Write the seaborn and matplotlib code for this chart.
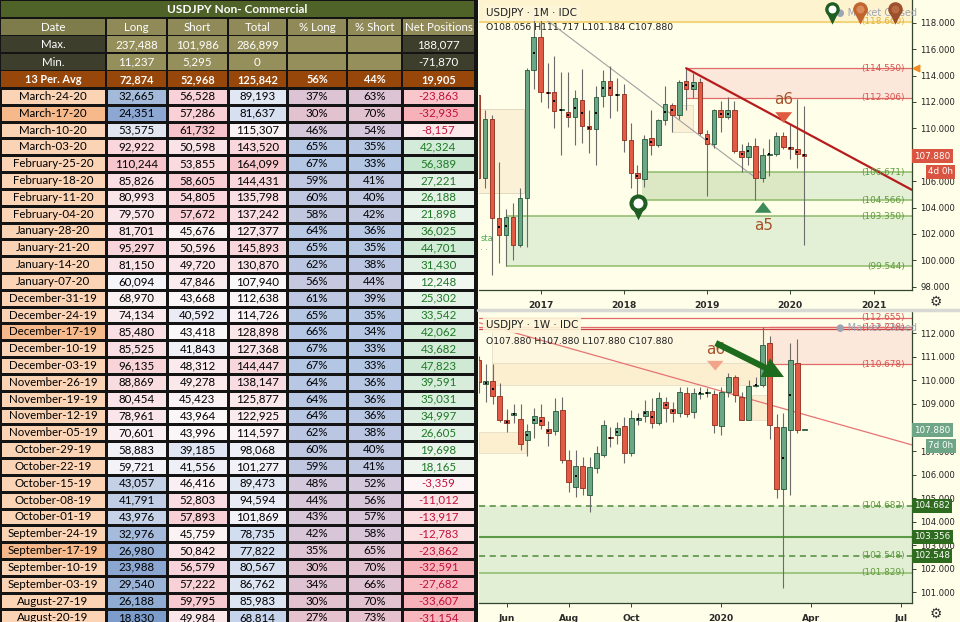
"""USDJPY COT table next to monthly and weekly candle charts."""

import numpy as np
import pandas as pd
import matplotlib
matplotlib.use("Agg")
import matplotlib.pyplot as plt
import matplotlib.dates as mdates
import matplotlib.transforms as mtransforms
from matplotlib.colors import LinearSegmentedColormap, ListedColormap
from matplotlib.lines import Line2D
from matplotlib.patches import Rectangle
from matplotlib.ticker import FuncFormatter, MultipleLocator
import seaborn as sns

# ---------------- table data ----------------
table_title = "USDJPY Non- Commercial"
header_names = ["Date", "Long", "Short", "Total", "% Long", "% Short", "Net Positions"]
stat_names = ["Max.", "Min.", "13 Per. Avg"]
stat_long = [237488, 11237, 72874]
stat_short = [101986, 5295, 52968]
stat_total = [286899, 0, 125842]
stat_pct_long = [None, None, 56]
stat_pct_short = [None, None, 44]
stat_net = [188077, -71870, 19905]

report_dates = ["March-24-20", "March-17-20", "March-10-20", "March-03-20",
                "February-25-20", "February-18-20", "February-11-20", "February-04-20",
                "January-28-20", "January-21-20", "January-14-20", "January-07-20",
                "December-31-19", "December-24-19", "December-17-19", "December-10-19",
                "December-03-19", "November-26-19", "November-19-19", "November-12-19",
                "November-05-19", "October-29-19", "October-22-19", "October-15-19",
                "October-08-19", "October-01-19", "September-24-19", "September-17-19",
                "September-10-19", "September-03-19", "August-27-19", "August-20-19"]
highlighted_dates = ["March-17-20", "December-17-19", "September-17-19"]
long_pos = [32665, 24351, 53575, 92922, 110244, 85826, 80993, 79570, 81701, 95297,
            81150, 60094, 68970, 74134, 85480, 85525, 96135, 88869, 80454, 78961,
            70601, 58883, 59721, 43057, 41791, 43976, 32976, 26980, 23988, 29540,
            26188, 18830]
short_pos = [56528, 57286, 61732, 50598, 53855, 58605, 54805, 57672, 45676, 50596,
             49720, 47846, 43668, 40592, 43418, 41843, 48312, 49278, 45423, 43964,
             43996, 39185, 41556, 46416, 52803, 57893, 45759, 50842, 56579, 57222,
             59795, 49984]
total_pos = [89193, 81637, 115307, 143520, 164099, 144431, 135798, 137242, 127377,
             145893, 130870, 107940, 112638, 114726, 128898, 127368, 144447, 138147,
             125877, 122925, 114597, 98068, 101277, 89473, 94594, 101869, 78735,
             77822, 80567, 86762, 85983, 68814]
pct_long = [37, 30, 46, 65, 67, 59, 60, 58, 64, 65, 62, 56, 61, 65, 66, 67, 67, 64,
            64, 64, 62, 60, 59, 48, 44, 43, 42, 35, 30, 34, 30, 27]
pct_short = [63, 70, 54, 35, 33, 41, 40, 42, 36, 35, 38, 44, 39, 35, 34, 33, 33, 36,
             36, 36, 38, 40, 41, 52, 56, 57, 58, 65, 70, 66, 70, 73]
net_pos = [-23863, -32935, -8157, 42324, 56389, 27221, 26188, 21898, 36025, 44701,
           31430, 12248, 25302, 33542, 42062, 43682, 47823, 39591, 35031, 34997,
           26605, 19698, 18165, -3359, -11012, -13917, -12783, -23862, -32591,
           -27682, -33607, -31154]

# ---------------- monthly candles (Apr 2016 - Mar 2020) ----------------
month_dates = pd.date_range("2016-04-01", periods=48, freq="MS")
m_open = [112.52, 106.21, 110.68, 103.18, 101.92, 103.25, 101.16, 104.69, 114.42, 116.94,
          112.73, 112.73, 111.36, 111.26, 110.83, 112.14, 110.20, 109.92, 112.45, 113.61,
          112.50, 112.60, 109.11, 106.59, 106.13, 109.24, 108.73, 110.63, 111.77, 111.01,
          113.61, 112.95, 113.50, 109.57, 108.81, 111.39, 110.83, 111.39, 108.30, 107.85,
          108.65, 106.20, 108.00, 108.05, 109.45, 108.60, 108.40, 108.056]
m_high = [112.80, 111.40, 111.01, 107.47, 103.90, 104.31, 105.45, 114.54, 118.66, 118.60,
          114.92, 115.48, 114.29, 114.29, 112.90, 114.47, 111.39, 113.20, 114.42, 114.72,
          113.79, 113.36, 110.43, 107.22, 109.50, 111.39, 110.68, 113.20, 111.94, 113.66,
          114.55, 114.20, 113.80, 109.90, 111.50, 112.10, 112.40, 112.10, 108.80, 109.00,
          109.30, 108.50, 109.20, 109.70, 109.70, 110.30, 112.20, 111.717]
m_low = [106.00, 105.45, 98.89, 99.77, 99.54, 100.02, 101.03, 101.03, 113.00, 112.02,
         111.51, 110.00, 107.98, 110.12, 108.73, 108.86, 108.15, 107.22, 111.64, 110.76,
         111.34, 108.23, 105.45, 104.56, 105.58, 107.98, 108.61, 110.25, 109.74, 110.70,
         111.40, 112.30, 109.50, 104.87, 108.50, 109.70, 110.70, 108.10, 106.70, 107.20,
         104.57, 105.90, 106.40, 107.90, 108.40, 107.65, 107.00, 101.184]
m_close = [106.21, 110.68, 103.18, 101.92, 103.30, 101.16, 104.69, 114.42, 116.94, 112.73,
           112.65, 111.34, 111.40, 110.83, 112.32, 110.20, 109.92, 112.40, 113.61, 112.50,
           112.60, 109.11, 106.59, 106.21, 109.16, 108.73, 110.63, 111.84, 111.01, 113.53,
           112.95, 113.48, 109.62, 108.81, 111.39, 110.83, 111.39, 108.25, 107.85, 108.65,
           106.20, 108.00, 108.05, 109.45, 108.60, 108.40, 108.06, 107.880]

# ---------------- weekly candles (May 2019 - Mar 2020) ----------------
week_dates = pd.date_range("2019-05-06", periods=48, freq="W-MON")
w_open = [110.87, 109.85, 109.97, 109.33, 108.30, 108.55, 108.35, 107.47, 108.18, 108.43,
          107.93, 107.83, 108.75, 106.62, 105.48, 106.36, 105.13, 106.26, 106.83, 107.61,
          107.68, 108.07, 106.90, 108.32, 108.49, 108.71, 108.21, 109.10, 108.77, 108.63,
          109.45, 108.66, 109.43, 109.47, 109.42, 108.07, 109.49, 110.16, 109.28, 108.32,
          109.78, 109.81, 111.58, 108.03, 105.40, 107.90, 110.73, 107.88]
w_high = [111.05, 110.70, 110.70, 109.90, 108.80, 108.99, 108.99, 108.15, 108.82, 108.99,
          108.26, 109.24, 109.31, 107.04, 107.04, 106.75, 106.75, 107.23, 108.30, 108.04,
          108.25, 108.46, 108.75, 108.63, 109.15, 109.24, 109.52, 109.30, 109.10, 109.73,
          109.73, 109.66, 109.73, 109.68, 109.60, 109.70, 110.33, 110.25, 109.50, 110.00,
          110.15, 112.25, 111.90, 108.58, 108.60, 111.58, 111.75, 107.88]
w_low = [109.45, 109.10, 109.00, 108.25, 107.80, 108.18, 107.05, 106.78, 107.54, 107.95,
         107.22, 107.70, 106.50, 105.27, 105.05, 105.13, 104.43, 106.05, 106.75, 107.19,
         107.30, 106.50, 106.80, 108.10, 108.25, 107.97, 108.10, 108.24, 108.25, 108.45,
         108.46, 108.40, 109.20, 109.30, 107.76, 107.68, 109.30, 109.10, 108.30, 108.30,
         109.70, 109.70, 107.50, 105.00, 101.18, 105.15, 107.75, 107.88]
w_close = [109.93, 109.97, 109.33, 108.30, 108.17, 108.60, 107.30, 107.87, 108.49, 108.10,
           107.76, 108.71, 106.62, 105.70, 106.36, 105.44, 106.33, 106.90, 108.10, 107.54,
           107.96, 106.90, 108.39, 108.39, 108.71, 108.21, 109.24, 108.82, 108.63, 109.52,
           108.57, 109.45, 109.46, 109.50, 108.10, 109.49, 110.14, 109.38, 108.32, 109.77,
           109.81, 111.52, 108.10, 105.40, 108.00, 110.87, 107.90, 107.88]

# ---------------- chart levels and notes ----------------
m_cap_level = 118.07
m_res_levels = [114.550, 112.306]
m_sup_levels = [106.671, 104.566, 103.350, 99.544]
m_last_price = 107.880
w_res_levels = [112.655, 112.228]
w_res_near = 110.678
w_sup_dashed = [104.682, 102.548]
w_sup_solid = [103.356, 101.829]
w_last_price = 107.880
hidden_ticks = [108]          # axis labels covered by the last-price tag

# ---------------- styles ----------------
W, H = 960, 622
BG = "#FFFEE9"
GRID_DARK = "#141414"
UP, UP_EDGE = "#6BA784", "#24563A"
DN, DN_EDGE = "#E25B45", "#8E2A1B"
WICK = "#6B6B6B"
RES = "#E06A6A"
SUP = "#8DBB69"
SUP_TXT = "#5E9B3C"
BROWN = "#A5532B"
AXIS = "#34452F"
TABLE_FONT = ["Lato", "DejaVu Sans"]

sns.set_theme(style="white")
plt.rcParams["font.family"] = ["DejaVu Sans"]

fig = plt.figure(figsize=(9.6, 6.22), dpi=100)
fig.patch.set_facecolor(BG)


def px_axes(x0, y0, x1, y1):
    return fig.add_axes([x0 / W, 1 - y1 / H, (x1 - x0) / W, (y1 - y0) / H])


def fmt_int(v):
    return "" if v is None else f"{v:,}"


def fmt_pct(v):
    return "" if v is None else f"{v}%"


def three_scale(values, lo, mid, hi):
    return np.interp(values, [lo, mid, hi], [0.0, 0.5, 1.0])


# ================= table =================
col_x = [0, 106, 167, 228, 287, 347, 402, 475]
tab = px_axes(0, 0, 478, 622)
tab.set_xlim(0, 478)
tab.set_ylim(622, 0)
tab.axis("off")
tab.add_patch(Rectangle((0, 0), 478, 622, color=GRID_DARK, zorder=0))


def cell(x0, x1, y0, y1, fc, text="", color="white", weight="normal", size=8.3):
    tab.add_patch(Rectangle((x0 + 0.6, y0 + 0.6), x1 - x0 - 1.2, y1 - y0 - 1.2,
                            fc=fc, ec="none", zorder=1))
    if text:
        tab.text((x0 + x1) / 2, (y0 + y1) / 2 + 0.5, text, ha="center", va="center",
                 color=color, fontsize=size, fontweight=weight, family=TABLE_FONT,
                 zorder=2)


cell(0, 475, 0, 18, "#4F6228", table_title, weight="bold", size=8.6)
hdr_fc = ["#7F7C4B"] + ["#8F8A57"] * 6
for i, name in enumerate(header_names):
    cell(col_x[i], col_x[i + 1], 18, 35.5, hdr_fc[i], name)

stat_y = [35.5, 53, 70.5, 88]
for r, name in enumerate(stat_names):
    vals = [name, fmt_int(stat_long[r]), fmt_int(stat_short[r]), fmt_int(stat_total[r]),
            fmt_pct(stat_pct_long[r]), fmt_pct(stat_pct_short[r]), fmt_int(stat_net[r])]
    if r < 2:
        fcs = ["#3D3E2C"] + ["#958F5B"] * 5 + ["#3D3E2C"]
        weight = "normal"
    else:
        fcs = ["#98470A"] * 7
        weight = "bold"
    for i, v in enumerate(vals):
        cell(col_x[i], col_x[i + 1], stat_y[r], stat_y[r + 1], fcs[i], v,
             weight=weight, size=8.3 if r < 2 else 7.9)

row_top, row_h = 88, 16.82
n_rows = len(report_dates)


def column_heatmap(i, scaled, labels, colors, text_colors=None):
    ax = px_axes(col_x[i], row_top, col_x[i + 1], row_top + n_rows * row_h)
    cmap = (ListedColormap(colors) if len(colors) == 2
            else LinearSegmentedColormap.from_list(f"c{i}", colors))
    sns.heatmap(np.asarray(scaled, dtype=float).reshape(-1, 1), ax=ax, cmap=cmap,
                vmin=0, vmax=1, cbar=False,
                annot=np.asarray(labels, dtype=object).reshape(-1, 1), fmt="",
                linewidths=0.9, linecolor=GRID_DARK,
                xticklabels=False, yticklabels=False,
                annot_kws={"fontsize": 8.3, "color": "black", "family": TABLE_FONT})
    ax.set_xlabel("")
    ax.set_ylabel("")
    if text_colors is not None:
        for t, c in zip(ax.texts, text_colors):
            t.set_color(c)


column_heatmap(0, [1 if d in highlighted_dates else 0 for d in report_dates],
               report_dates, ["#FBD4B6", "#F5B98C"])
column_heatmap(1, three_scale(long_pos, 18000, 62000, 112000),
               [fmt_int(v) for v in long_pos], ["#7A9BCB", "#FBF8FA", "#F7C3CA"])
column_heatmap(2, three_scale(short_pos, 33000, 43500, 62000),
               [fmt_int(v) for v in short_pos], ["#B9CCE8", "#FBF8FA", "#F7C3CA"])
column_heatmap(3, three_scale(total_pos, 60000, 108000, 166000),
               [fmt_int(v) for v in total_pos], ["#B9CCE8", "#FBF8FA", "#F7C3CA"])
column_heatmap(4, three_scale(pct_long, 27, 48, 67),
               [fmt_pct(v) for v in pct_long], ["#E6C1CE", "#D3C8DC", "#B3C7E4"])
column_heatmap(5, three_scale(pct_short, 33, 52, 73),
               [fmt_pct(v) for v in pct_short], ["#B3C7E4", "#D3C8DC", "#E6C1CE"])
column_heatmap(6, three_scale(net_pos, -36000, 0, 60000),
               [fmt_int(v) for v in net_pos], ["#F6ACB3", "#FEFBFB", "#C3E5CB"],
               text_colors=["#C0103A" if v < 0 else "#1D7A24" for v in net_pos])

# ================= charts =================
top = px_axes(479, 0, 912, 290)
bot = px_axes(479, 312, 912, 603)


def price_fmt(v, pos):
    return "" if round(v) in hidden_ticks and abs(v - round(v)) < 1e-6 else f"{v:.3f}"


def style_panel(ax, ylim, step):
    ax.set_facecolor(BG)
    ax.set_ylim(*ylim)
    ax.yaxis.tick_right()
    ax.yaxis.set_major_locator(MultipleLocator(step))
    ax.yaxis.set_major_formatter(FuncFormatter(price_fmt))
    for s in ("left", "top"):
        ax.spines[s].set_visible(False)
    for s in ("right", "bottom"):
        ax.spines[s].set_color(AXIS)
        ax.spines[s].set_linewidth(0.9)
    ax.tick_params(axis="y", right=True, labelright=True, left=False, labelleft=False,
                   length=3, width=0.7, color=AXIS, labelsize=6.1, labelcolor="#222222",
                   pad=3)
    ax.tick_params(axis="x", bottom=True, length=3, width=0.7, color=AXIS,
                   labelsize=6.6, labelcolor="#2A2A2A", pad=5)
    for lab in ax.get_xticklabels():
        lab.set_fontweight("bold")
    ax.grid(False)


def draw_candles(ax, dates, o, h, l, c, width, min_h):
    x = mdates.date2num(dates)
    o, h, l, c = (np.asarray(v, dtype=float) for v in (o, h, l, c))
    up = c >= o
    ax.vlines(x, l, h, color=WICK, lw=0.8, zorder=3)
    ax.bar(x, np.maximum(np.abs(c - o), min_h), width=width, bottom=np.minimum(o, c),
           color=np.where(up, UP, DN), edgecolor=np.where(up, UP_EDGE, DN_EDGE),
           linewidth=0.6, zorder=4)
    mark = np.abs(c - o) < 0.48 * (h - l)
    ax.scatter(x[mark], ((o + c) / 2)[mark], marker="s", s=3, color="black",
               linewidths=0, zorder=5)


def d(s):
    return mdates.date2num(pd.Timestamp(s))


def right_label(ax, y, text, color, size=6.4):
    tr = mtransforms.blended_transform_factory(ax.transAxes, ax.transData)
    ax.text((905 - 479) / 433, y, text, transform=tr, ha="right", va="center",
            color=color, fontsize=size, zorder=7)


def price_tag(ax, y, text, fc, px_left=914, size=6.3):
    tr = mtransforms.blended_transform_factory(ax.transAxes, ax.transData)
    ax.text((px_left - 479) / 433, y, text, transform=tr, ha="left", va="center",
            color="white", fontsize=size, clip_on=False, zorder=10,
            bbox=dict(boxstyle="square,pad=0.28", fc=fc, ec="none"))


def pin(ax, x, y_head, y_tri, color, inner, transform, s_head=150, s_tri=80):
    ax.scatter([x], [y_tri], marker="v", s=s_tri, color=color, linewidths=0,
               transform=transform, clip_on=False, zorder=9)
    ax.scatter([x], [y_head], marker="o", s=s_head, color=color, linewidths=0,
               transform=transform, clip_on=False, zorder=9)
    ax.scatter([x], [y_head], marker="o", s=s_head * 0.3, color=inner, linewidths=0,
               transform=transform, clip_on=False, zorder=9)


# ---------- top: monthly ----------
top.set_xlim(d("2016-04-05"), d("2021-06-18"))
top.set_xticks([d(f"{y}-01-01") for y in range(2017, 2022)])
top.set_xticklabels([str(y) for y in range(2017, 2022)])
style_panel(top, (97.75, 119.72), 2)
draw_candles(top, month_dates, m_open, m_high, m_low, m_close, width=20, min_h=0.08)
x0m, x1m = top.get_xlim()

top.axhspan(m_cap_level, 120, color="#FDF3CF", zorder=0)
top.axhline(m_cap_level, color="#F2CF6B", lw=1.2, zorder=1)
right_label(top, m_cap_level + 0.05, "(118.660)", "#E3B23C")

top.add_patch(Rectangle((d("2016-04-01"), 105.08), d("2016-10-20") - d("2016-04-01"),
                        6.36, fc="#FBF1D6", ec="#DCD3BA", lw=0.6, zorder=1))
top.add_patch(Rectangle((d("2018-08-02"), 109.74), d("2018-10-29") - d("2018-08-02"),
                        2.03, fc="#FBF1D6", ec="#E0D8C0", lw=0.6, zorder=1))

top.add_patch(Rectangle((d("2018-10-01"), m_res_levels[1]), x1m - d("2018-10-01"),
                        m_res_levels[0] - m_res_levels[1], fc="#FBE8DA", ec="none",
                        zorder=1))
for lv in m_res_levels:
    top.hlines(lv, d("2018-10-01"), x1m, color=RES, lw=0.9, zorder=2)
    right_label(top, lv, f"({lv:.3f})", "#D9534F")
top.scatter([(916 - 479) / 433], [m_res_levels[0]], marker="<", s=22, color="#F08A24",
            transform=mtransforms.blended_transform_factory(top.transAxes, top.transData),
            clip_on=False, zorder=10)

top.add_patch(Rectangle((d("2018-03-20"), m_sup_levels[1]), d("2020-03-01") - d("2018-03-20"),
                        m_sup_levels[0] - m_sup_levels[1], fc="#DCE7C3", ec="none", zorder=1))
top.add_patch(Rectangle((d("2020-03-01"), m_sup_levels[1]), x1m - d("2020-03-01"),
                        m_sup_levels[0] - m_sup_levels[1], fc="#E4F0D6", ec="none", zorder=1))
top.add_patch(Rectangle((d("2016-08-01"), m_sup_levels[3]), x1m - d("2016-08-01"),
                        m_sup_levels[2] - m_sup_levels[3], fc="#E4F0D6", ec="none", zorder=1))
top.hlines(m_sup_levels[0], d("2018-03-20"), x1m, color=SUP, lw=1.1, zorder=2)
top.hlines(m_sup_levels[1], d("2018-03-04"), x1m, color=SUP, lw=1.1, zorder=2)
top.hlines(m_sup_levels[2:], d("2016-08-01"), x1m, color=SUP, lw=1.1, zorder=2)
for lv in m_sup_levels:
    right_label(top, lv, f"({lv:.3f})", SUP_TXT)

top.plot([d("2016-12-29"), d("2019-07-29")], [118.58, 106.30], color="#A0A0A0",
         lw=0.8, zorder=2)
top.plot([d("2018-10-01"), x1m], [114.55, 105.33], color="#B71C1C", lw=1.6, zorder=6)

top.annotate("", xy=(d("2019-09-04"), 104.62), xytext=(d("2019-09-04"), 103.55),
             arrowprops=dict(arrowstyle="simple,head_width=1.1,head_length=0.7,tail_width=0.5",
                             mutation_scale=11, color="#3C8C5A", lw=0), zorder=7)
top.text(d("2019-09-04"), 102.66, "a5", color=BROWN, fontsize=11, ha="center",
         va="center", zorder=7)
top.annotate("", xy=(d("2019-12-03"), 110.2), xytext=(d("2019-12-03"), 111.4),
             arrowprops=dict(arrowstyle="simple,head_width=1.1,head_length=0.7,tail_width=0.5",
                             mutation_scale=11, color="#E05A3F", lw=0), zorder=7)
top.text(d("2019-12-01"), 112.2, "a6", color=BROWN, fontsize=11, ha="center",
         va="center", zorder=7)
pin(top, d("2018-03-04"), 104.32, 103.55, "#1E5E22", "white", top.transData,
    s_head=170, s_tri=95)

top.text(0.016, 1 - 13 / 290, "USDJPY · 1M · IDC", transform=top.transAxes, fontsize=7.5,
         color="#1F1F1F", va="center", zorder=8,
         bbox=dict(boxstyle="square,pad=0.25", fc="#FDF6DA", ec="none", alpha=0.9))
top.text(0.016, 1 - 28 / 290, "O108.056 H111.717 L101.184 C107.880", transform=top.transAxes,
         fontsize=6.7, color="#1F1F1F", va="center", zorder=8)
top.text(0.003, 1 - 243 / 290, "sta\n. .", transform=top.transAxes, fontsize=6,
         color="#4CAF50", va="center", zorder=8, linespacing=0.9)
top.text((836 - 479) / 433, 1 - 13 / 290, "● Market Closed", transform=top.transAxes,
         fontsize=7, color="#9DA5B4", va="center", zorder=8)
for px, col, inner in [(832, "#1E5E22", "#FFFFFF"), (860, "#C1652F", "#D98A5A"),
                       (895, "#9C4F2C", "#B86A45")]:
    pin(top, (px - 479) / 433, 1 - 9 / 290, 1 - 19 / 290, col, inner, top.transAxes,
        s_head=110, s_tri=55)
price_tag(top, m_last_price, "107.880", "#DA5541")
price_tag(top, 106.71, "4d 0h", "#DA5541", px_left=928)

# ---------- bottom: weekly ----------
bot.set_xlim(d("2019-05-06"), d("2020-07-17"))
w_ticks = ["2019-06-03", "2019-08-05", "2019-10-07", "2020-01-06", "2020-04-06", "2020-07-06"]
bot.set_xticks([d(t) for t in w_ticks])
bot.set_xticklabels(["Jun", "Aug", "Oct", "2020", "Apr", "Jul"])
style_panel(bot, (100.548, 112.904), 1)
x0w, x1w = bot.get_xlim()
draw_candles(bot, week_dates, w_open, w_high, w_low, w_close, width=5, min_h=0.04)

bot.add_patch(Rectangle((d("2019-05-19"), 110.73), d("2020-02-24") - d("2019-05-19"), 1.55,
                        fc="#FEF7DF", ec="#E6DDC6", lw=0.6, zorder=1))
bot.add_patch(Rectangle((d("2019-05-19"), 109.80), d("2020-02-24") - d("2019-05-19"), 0.93,
                        fc="#FCEFCF", ec="#E6DDC6", lw=0.6, zorder=1))
bot.add_patch(Rectangle((x0w, 106.92), d("2019-06-23") - x0w, 0.90,
                        fc="#FCEFCF", ec="#E6DDC6", lw=0.6, zorder=1))
bot.add_patch(Rectangle((d("2020-02-06"), 108.32), 20, 1.06,
                        fc="#FCEFCF", ec="#E6DDC6", lw=0.6, zorder=1))
bot.add_patch(Rectangle((d("2020-02-24"), w_res_near), x1w - d("2020-02-24"),
                        112.3 - w_res_near, fc="#FBE8DA", ec="none", zorder=1))

bot.axhline(w_res_levels[0], color=RES, lw=0.9, zorder=2)
bot.axhline(w_res_levels[1] + 0.02, color=RES, lw=0.9, zorder=2)
bot.axhline(w_res_levels[1] - 0.03, color="#C94040", lw=0.9, zorder=2)
bot.hlines(w_res_near, d("2020-02-24"), x1w, color=RES, lw=0.9, zorder=2)
bot.text((836 - 479) / 433, w_res_levels[1], "● Market Closed",
         transform=mtransforms.blended_transform_factory(bot.transAxes, bot.transData),
         fontsize=7, color="#9DA5B4", va="center", zorder=6)
for lv in w_res_levels + [w_res_near]:
    right_label(bot, lv, f"({lv:.3f})", "#D9534F")

bot.axhspan(100.0, w_sup_dashed[0], color="#E2EFD4", zorder=0)
for lv in w_sup_dashed:
    bot.axhline(lv, color="#4E8A3A", lw=1.1, ls=(0, (4, 3)), zorder=2)
bot.axhline(w_sup_solid[0], color="#5C9A45", lw=1.5, zorder=2)
bot.axhline(w_sup_solid[1], color=SUP, lw=1.1, zorder=2)
for lv in [w_sup_dashed[0], w_sup_dashed[1], w_sup_solid[1]]:
    right_label(bot, lv, f"({lv:.3f})", SUP_TXT)

bot.plot([x0w, x1w], [112.45, 107.26], color="#E57373", lw=0.9, zorder=2)

bot.text(d("2019-12-31"), 111.32, "a6", color=BROWN, fontsize=11, ha="center",
         va="center", zorder=6)
bot.annotate("", xy=(d("2019-12-31"), 110.3), xytext=(d("2019-12-31"), 110.9),
             arrowprops=dict(arrowstyle="simple,head_width=1.2,head_length=0.7,tail_width=0.6",
                             mutation_scale=10, color="#F2A58A", lw=0), zorder=6)
bot.annotate("", xy=(d("2020-03-12"), 110.09), xytext=(d("2019-12-29"), 111.64),
             arrowprops=dict(arrowstyle="simple,head_width=1.0,head_length=1.0,tail_width=0.3",
                             mutation_scale=15, color="#1E6B1E", lw=0), zorder=8)

bot.text(0.016, 1 - 13 / 291, "USDJPY · 1W · IDC", transform=bot.transAxes, fontsize=7.5,
         color="#1F1F1F", va="center", zorder=8,
         bbox=dict(boxstyle="square,pad=0.25", fc="#FDF6DA", ec="none", alpha=0.9))
bot.text(0.016, 1 - 30 / 291, "O107.880 H107.880 L107.880 C107.880", transform=bot.transAxes,
         fontsize=6.7, color="#1F1F1F", va="center", zorder=8)

for lv in [w_sup_dashed[0], w_sup_solid[0], w_sup_dashed[1]]:
    price_tag(bot, lv, f"{lv:.3f}", "#2E6B1E")
price_tag(bot, w_last_price, "107.880", "#6FA587")
price_tag(bot, 107.22, "7d 0h", "#6FA587", px_left=928)

# ---------- frame pieces ----------
fig.add_artist(Line2D([478 / W, 1], [1 - 310 / H] * 2, color="#D8D8D4", lw=2.5))
for py in (302, 614):
    fig.text(936 / W, 1 - py / H, "⚙", ha="center", va="center", fontsize=10,
             color="#333333")

fig.savefig("out.png", dpi=100, facecolor=fig.get_facecolor())
